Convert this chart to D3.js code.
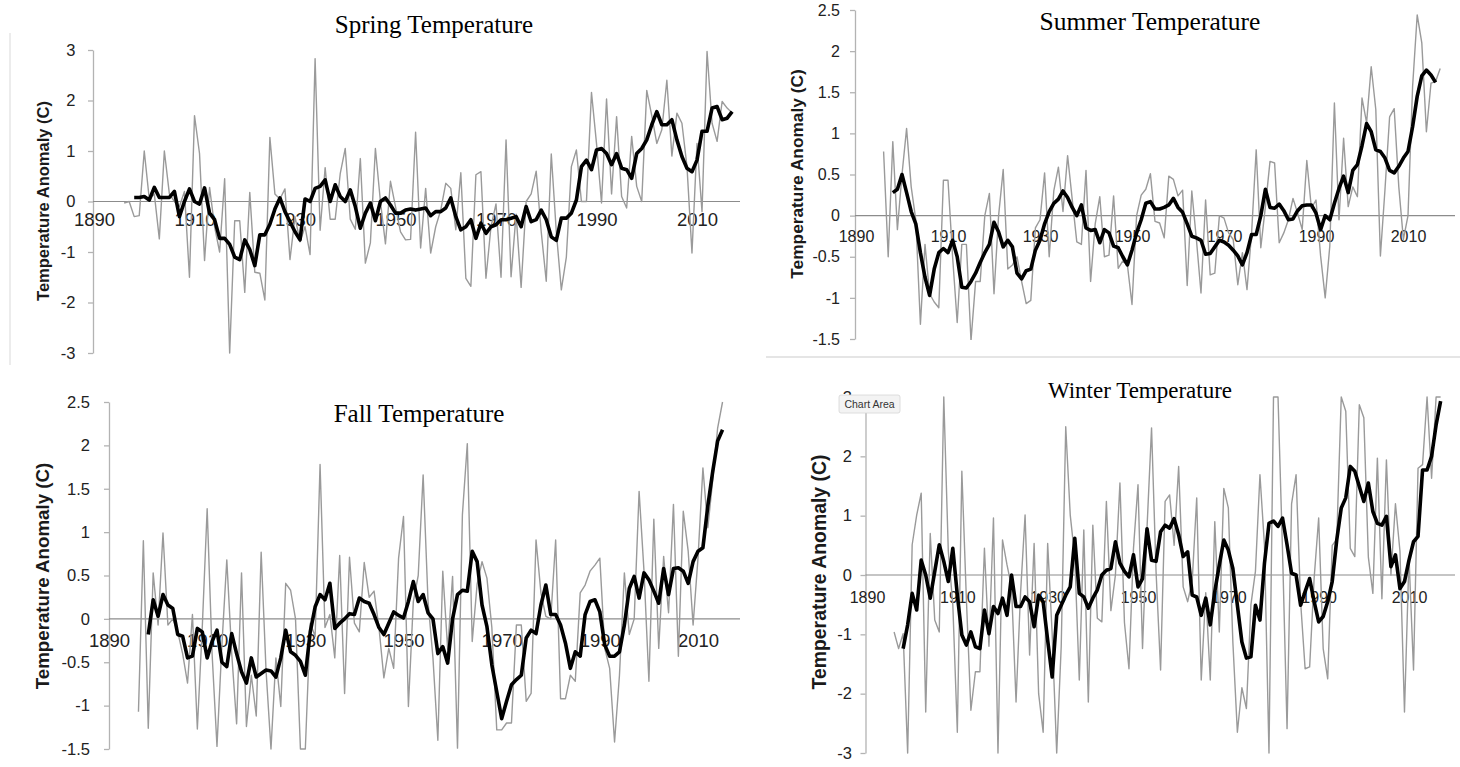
<!DOCTYPE html>
<html>
<head>
<meta charset="utf-8">
<script src="https://cdn.jsdelivr.net/npm/d3@7"></script>
<style>
  body { margin: 0; background: #ffffff; }
  svg { display: block; }
</style>
</head>
<body>
<svg id="chart" width="1460" height="767"></svg>
<script>
// ---- Seasonal temperature anomalies (°C): annual values and smoothed trend ----
const yearTicks = [1890, 1910, 1930, 1950, 1970, 1990, 2010];

const springTicks = [3, 2, 1, 0, -1, -2, -3];
const summerTicks = [2.5, 2, 1.5, 1, 0.5, 0, -0.5, -1, -1.5];
const fallTicks   = [2.5, 2, 1.5, 1, 0.5, 0, -0.5, -1, -1.5];
const winterTicks = [3, 2, 1, 0, -1, -2, -3];

const springAnnualStart = 1896;
const springAnnual = [
  -0.03, 0.0, -0.3, -0.28, 1.0, 0.05, 0.15, -0.74, 1.0, 0.15,
  0.0, -0.1, 0.2, -1.5, 1.7, 0.95, -1.17, 0.28, -0.5, -1.0,
  0.45, -3.0, -0.38, -0.38, -1.8, 0.18, -1.4, -1.42, -1.95, 1.27,
  0.15, 0.05, 0.25, -1.15, -0.3, -0.8, -0.5, -1.05, 2.83, -0.57,
  0.67, -0.35, -0.35, 0.55, 1.05, -0.35, -0.55, 0.85, -1.22, -0.82,
  1.05, 0.0, -0.84, 0.4, -0.1, -0.6, -0.76, -0.75, 1.37, -0.92,
  0.26, -1.02, -0.5, -0.17, 0.36, 0.26, -0.56, 0.57, -1.52, -1.68,
  0.53, 0.59, -1.52, -0.5, -0.05, -1.5, 1.22, -1.49, -0.25, -1.7,
  0.0, 0.15, 0.6, -0.6, -1.58, 0.94, -0.6, -1.75, -1.1, 0.69,
  1.02, 0.0, 0.0, 2.16, 1.15, -0.03, 2.03, 0.15, 1.68, 0.1,
  -0.13, 1.29, 0.3, 0.0, 2.2, 1.7, 1.15, 1.42, 2.4, 0.9,
  1.75, 1.55, 0.7, -1.02, 1.15, -0.2, 2.97, 1.55, 1.19, 1.98,
  1.85, 1.75
];
const springSmoothStart = 1898;
const springSmooth = [
  0.08, 0.08, 0.1, 0.03, 0.28, 0.08, 0.08, 0.08, 0.2, -0.3,
  0.0, 0.25, 0.0, -0.05, 0.27, -0.23, -0.36, -0.73, -0.73, -0.85,
  -1.1, -1.15, -0.76, -0.95, -1.27, -0.66, -0.66, -0.45, -0.15, 0.07,
  -0.2, -0.4, -0.6, -0.76, 0.05, 0.0, 0.26, 0.3, 0.43, 0.0,
  0.33, 0.1, 0.0, 0.23, -0.1, -0.53, -0.23, -0.03, -0.38, 0.0,
  0.07, -0.07, -0.23, -0.23, -0.17, -0.15, -0.17, -0.15, -0.13, -0.28,
  -0.2, -0.2, -0.13, 0.07, -0.3, -0.56, -0.5, -0.36, -0.73, -0.43,
  -0.63, -0.5, -0.46, -0.36, -0.36, -0.33, -0.3, -0.5, -0.1, -0.4,
  -0.36, -0.17, -0.36, -0.7, -0.77, -0.33, -0.33, -0.23, 0.03, 0.69,
  0.82, 0.63, 1.02, 1.05, 0.95, 0.73, 0.95, 0.66, 0.63, 0.46,
  0.95, 1.05, 1.22, 1.52, 1.78, 1.52, 1.52, 1.62, 1.22, 0.89,
  0.66, 0.59, 0.82, 1.39, 1.39, 1.85, 1.88, 1.62, 1.65, 1.78
];

const summerAnnualStart = 1896;
const summerAnnual = [
  0.78, -0.5, 0.9, -0.17, 0.5, 1.06, 0.35, -0.05, -1.32, -0.35,
  -0.95, -1.05, -1.12, 0.43, 0.43, -0.5, -1.3, -0.35, -0.35, -1.52,
  -0.8, -0.8, 0.0, 0.27, -0.95, 0.0, 0.56, -0.65, -0.6, -0.5,
  -0.8, -1.07, -1.03, -0.15, -0.05, 0.52, -0.5, 0.3, 0.59, 0.05,
  0.73, 0.2, -0.32, -0.35, 0.55, -0.8, -0.1, 0.23, -0.5, -0.48,
  0.24, -0.64, -0.55, -0.6, -1.08, 0.0, 0.25, 0.32, 0.51, -0.07,
  -0.09, -0.27, 0.48, 0.44, 0.24, 0.31, -0.85, 0.3, -0.29, -0.94,
  0.19, -0.72, -0.7, 0.0, -0.03, -0.21, -0.29, -0.84, -0.45, -0.9,
  -0.21, 0.8, -0.39, 0.11, 0.66, 0.64, -0.33, -0.21, -0.05, 0.21,
  0.03, -0.17, 0.67, 0.09, 0.19, -0.49, -1.0, -0.37, 1.37, -0.05,
  0.94, 0.11, 0.35, 0.23, 1.43, 1.13, 1.81, 1.29, -0.49, 0.32,
  1.2, 1.3, 0.35, -0.29, 0.0, 1.57, 2.44, 2.1, 1.02, 1.61,
  1.63, 1.79
];
const summerSmoothStart = 1898;
const summerSmooth = [
  0.28, 0.32, 0.5, 0.28, 0.05, -0.1, -0.45, -0.75, -0.97, -0.65,
  -0.45, -0.4, -0.45, -0.3, -0.5, -0.87, -0.88, -0.8, -0.7, -0.57,
  -0.45, -0.35, -0.08, -0.2, -0.38, -0.3, -0.38, -0.7, -0.77, -0.67,
  -0.65, -0.42, -0.3, -0.1, 0.05, 0.15, 0.2, 0.3, 0.22, 0.1,
  0.0, 0.13, -0.15, -0.18, -0.17, -0.33, -0.17, -0.21, -0.37, -0.39,
  -0.5, -0.6, -0.42, -0.21, -0.05, 0.15, 0.17, 0.08, 0.08, 0.1,
  0.13, 0.21, 0.1, 0.04, -0.1, -0.25, -0.27, -0.3, -0.47, -0.46,
  -0.38, -0.3, -0.32, -0.36, -0.42, -0.49, -0.6, -0.45, -0.23, -0.23,
  0.0, 0.32, 0.1, 0.09, 0.14, 0.06, -0.05, -0.04, 0.06, 0.12,
  0.13, 0.13, 0.03, -0.17, 0.0, -0.05, 0.15, 0.33, 0.48, 0.28,
  0.55, 0.62, 0.85, 1.12, 1.02, 0.8, 0.78, 0.7, 0.55, 0.52,
  0.6, 0.7, 0.78, 1.08, 1.45, 1.7, 1.77, 1.71, 1.62
];

const fallAnnualStart = 1896;
const fallAnnual = [
  -1.07, 0.9, -1.26, 0.53, -0.07, 0.99, -0.07, 0.0, -0.15, -0.4,
  -0.74, 0.05, -1.27, -0.1, 1.27, -0.4, -1.47, -0.3, 0.68, -0.4,
  -1.21, 0.53, -1.24, -0.65, -1.12, 0.77, -0.6, -1.5, -0.45, -1.01,
  0.41, 0.33, 0.0, -1.5, -1.5, -0.05, -0.2, 1.78, -0.1, 0.05,
  -0.45, 0.73, -0.86, 0.71, -0.05, -0.15, 0.65, 0.25, 0.32, -0.1,
  -0.68, -0.34, -0.57, 0.7, 1.18, -1.01, 0.2, 0.5, 1.66, 0.2,
  -0.45, -1.4, 0.55, -0.35, 0.49, -1.49, 1.2, 2.02, -0.26, 0.4,
  0.66, 0.47, -0.1, -1.28, -1.28, -1.2, -1.2, -0.07, -0.07, -0.95,
  -0.86, 0.91, 0.3, 0.03, 0.0, 0.91, -0.92, -0.92, -0.65, -0.72,
  0.3, 0.39, 0.55, 0.62, 0.7, -0.34, -0.57, -1.42, -0.65, 0.53,
  -0.18, 0.0, 1.47, 0.55, -0.72, 1.15, -0.34, 0.72, 0.07, 1.32,
  -0.43, 1.24, 0.78, -0.07, 0.7, 1.74, 1.05, 1.6, 2.2, 2.5
];
const fallSmoothStart = 1898;
const fallSmooth = [
  -0.18, 0.22, 0.03, 0.28, 0.16, 0.12, -0.18, -0.2, -0.45, -0.43,
  -0.11, -0.15, -0.45, -0.26, -0.13, -0.5, -0.55, -0.17, -0.4, -0.61,
  -0.74, -0.45, -0.67, -0.63, -0.59, -0.6, -0.67, -0.45, -0.13, -0.38,
  -0.42, -0.49, -0.65, -0.15, 0.14, 0.28, 0.22, 0.41, -0.11, -0.05,
  0.0, 0.06, 0.05, 0.24, 0.2, 0.18, 0.05, -0.1, -0.18, -0.05,
  0.08, 0.04, 0.01, 0.2, 0.43, 0.2, 0.28, 0.07, 0.0, -0.4,
  -0.32, -0.51, 0.0, 0.28, 0.33, 0.32, 0.78, 0.66, 0.16, -0.09,
  -0.53, -0.84, -1.15, -0.95, -0.76, -0.7, -0.65, -0.22, -0.13, -0.17,
  0.16, 0.39, 0.05, 0.05, -0.07, -0.28, -0.57, -0.38, -0.43, 0.05,
  0.2, 0.22, 0.08, -0.3, -0.43, -0.43, -0.38, -0.07, 0.35, 0.49,
  0.24, 0.53, 0.45, 0.32, 0.18, 0.58, 0.28, 0.58, 0.59, 0.55,
  0.41, 0.66, 0.78, 0.82, 1.3, 1.7, 2.05, 2.18
];

const winterAnnualStart = 1896;
const winterAnnual = [
  -0.96, -1.24, -0.99, -3.0, 0.51, 1.01, 1.38, -2.31, 0.7, -0.76,
  -0.96, 3.0, 0.4, -0.5, -2.65, 1.75, -0.4, -2.28, -1.63, -1.63,
  0.45, -1.2, 0.96, -3.0, 0.59, 0.17, -0.2, -2.14, -0.3, 1.01,
  -1.35, 0.53, -2.0, -2.65, 0.53, -1.0, -3.0, -1.2, 2.5, 1.01,
  0.3, -1.77, 0.76, -2.14, 0.84, -0.73, -0.79, 1.24, -0.6, 0.0,
  1.55, -0.8, -1.58, 0.45, 1.52, -1.24, 0.8, 2.48, 0.05, -1.6,
  1.24, 1.35, 0.5, 1.83, -0.2, -0.45, -0.1, 1.3, -1.77, -0.3,
  -1.77, 0.9, -0.96, 1.46, 1.13, -1.13, -2.65, -1.9, -2.25, -0.5,
  0.06, 1.69, 0.5, -3.0, 3.0, 3.0, 0.4, -2.59, 1.2, 1.69,
  -0.45, -1.58, -1.55, -0.05, 0.96, -1.24, -1.75, 0.5, 0.6, 3.0,
  2.76, 0.45, 0.31, 2.87, 2.65, 0.3, -0.31, 1.97, -0.4, 1.94,
  0.0, 1.2, 0.4, -2.31, 0.3, -1.6, 1.8, 1.86, 3.0, 1.63,
  3.0, 3.0
];
const winterSmoothStart = 1898;
const winterSmooth = [
  -1.24, -0.84, -0.31, -0.59, 0.25, 0.0, -0.39, 0.06, 0.51, 0.23,
  -0.11, 0.45, -0.34, -1.01, -1.18, -0.96, -1.21, -1.24, -0.59, -0.99,
  -0.53, -0.65, -0.39, -0.68, 0.0, -0.53, -0.53, -0.37, -0.45, -0.87,
  -0.34, -0.45, -1.1, -1.72, -0.68, -0.51, -0.34, -0.2, 0.62, -0.31,
  -0.37, -0.56, -0.39, -0.25, 0.0, 0.08, 0.11, 0.56, 0.2, 0.06,
  -0.03, 0.34, -0.2, -0.06, 0.78, 0.25, 0.23, 0.73, 0.84, 0.79,
  0.95, 0.68, 0.31, 0.39, -0.34, -0.37, -0.68, -0.39, -0.84, -0.28,
  0.17, 0.59, 0.42, 0.11, -0.51, -1.13, -1.4, -1.38, -0.51, -0.76,
  0.2, 0.87, 0.91, 0.82, 0.96, 0.51, 0.03, 0.0, -0.51, -0.28,
  -0.06, -0.45, -0.79, -0.7, -0.45, -0.11, 0.59, 1.13, 1.3, 1.83,
  1.75, 1.49, 1.24, 1.55, 1.07, 0.87, 0.84, 0.99, 0.14, 0.34,
  -0.23, -0.11, 0.25, 0.56, 0.65, 1.77, 1.77, 2.0, 2.53, 2.93
];

// ---- Panel layout (page pixels) ----
const panels = [
  { title: "Spring Temperature", annual: springAnnual, annualStart: springAnnualStart,
    smooth: springSmooth, smoothStart: springSmoothStart, yTicks: springTicks,
    x1890: 94, x2010: 697, axisX: 93, lineEnd: 740,
    yMax: 3, yMin: -3, yTopPx: 50, yBotPx: 353,
    tickFont: 16.5, tickGap: 17.5, yearFont: 18.5, yearOffset: 25,
    titleX: 434, titleY: 33, titleFont: 25,
    axisTitleX: 43, axisTitleY: 201, axisTitleFont: 16.5 },
  { title: "Summer Temperature", annual: summerAnnual, annualStart: summerAnnualStart,
    smooth: summerSmooth, smoothStart: summerSmoothStart, yTicks: summerTicks,
    x1890: 856, x2010: 1408, axisX: 855, lineEnd: 1455,
    yMax: 2.5, yMin: -1.5, yTopPx: 10, yBotPx: 339,
    tickFont: 16, tickGap: 15, yearFont: 16, yearOffset: 27,
    titleX: 1150, titleY: 30, titleFont: 25.5,
    axisTitleX: 797, axisTitleY: 174, axisTitleFont: 17.3 },
  { title: "Fall Temperature", annual: fallAnnual, annualStart: fallAnnualStart,
    smooth: fallSmooth, smoothStart: fallSmoothStart, yTicks: fallTicks,
    x1890: 109, x2010: 698, axisX: 109, lineEnd: 740,
    yMax: 2.5, yMin: -1.5, yTopPx: 402, yBotPx: 749,
    tickFont: 16.5, tickGap: 19, yearFont: 18.5, yearOffset: 28,
    titleX: 419, titleY: 422, titleFont: 25,
    axisTitleX: 42, axisTitleY: 576, axisTitleFont: 18.7 },
  { title: "Winter Temperature", annual: winterAnnual, annualStart: winterAnnualStart,
    smooth: winterSmooth, smoothStart: winterSmoothStart, yTicks: winterTicks,
    x1890: 867, x2010: 1409, axisX: 865.5, lineEnd: 1455,
    yMax: 3, yMin: -3, yTopPx: 397, yBotPx: 753,
    tickFont: 16.5, tickGap: 13.5, yearFont: 16, yearOffset: 28,
    titleX: 1140, titleY: 398, titleFont: 23,
    axisTitleX: 819, axisTitleY: 572, axisTitleFont: 19.4 }
];

const svg = d3.select("#chart");
const SANS = "'Liberation Sans', Arial, Helvetica, sans-serif";
const SERIF = "'Liberation Serif', 'Times New Roman', serif";

const toSeries = (values, start) => values.map((v, i) => ({ year: start + i, value: v }));

// faint frame remnants around the upper panels
svg.append("line").attr("x1", 10).attr("x2", 10).attr("y1", 33).attr("y2", 365)
  .attr("stroke", "#d9d9d9").attr("stroke-width", 1);
svg.append("line").attr("x1", 766).attr("x2", 1460).attr("y1", 357).attr("y2", 357)
  .attr("stroke", "#dcdcdc").attr("stroke-width", 1.5);

panels.forEach((p, idx) => {
  const g = svg.append("g").attr("class", "panel");

  const x = d3.scaleLinear().domain([1890, 2010]).range([p.x1890, p.x2010]);
  const y = d3.scaleLinear().domain([p.yMin, p.yMax]).range([p.yBotPx, p.yTopPx]);

  // clip to plotting area
  const clipId = "clip" + idx;
  g.append("clipPath").attr("id", clipId).append("rect")
    .attr("x", p.axisX).attr("y", y(p.yMax) - 1)
    .attr("width", p.lineEnd - p.axisX).attr("height", y(p.yMin) - y(p.yMax) + 2);

  // vertical value axis (plain hyphen for negatives)
  const yAxis = d3.axisLeft(y).tickValues(p.yTicks).tickSize(5).tickSizeOuter(0)
    .tickPadding(p.tickGap - 5).tickFormat(d => String(d));
  const ya = g.append("g").attr("transform", `translate(${p.axisX},0)`).call(yAxis);
  ya.select(".domain").attr("stroke", "#b3b3b3").attr("stroke-width", 1.3);
  ya.selectAll(".tick line").attr("stroke", "#b3b3b3").attr("stroke-width", 1.3);
  ya.selectAll(".tick text").attr("fill", "#222")
    .style("font-family", SANS).style("font-size", p.tickFont + "px");

  // zero line
  g.append("line")
    .attr("x1", p.axisX).attr("x2", p.lineEnd)
    .attr("y1", y(0)).attr("y2", y(0))
    .attr("stroke", "#8c8c8c").attr("stroke-width", 1.2);

  // year labels under the zero line
  const xAxis = d3.axisBottom(x).tickValues(yearTicks).tickSize(0)
    .tickPadding(p.yearOffset - p.yearFont * 0.72).tickFormat(d3.format("d"));
  const xa = g.append("g").attr("transform", `translate(0,${y(0)})`).call(xAxis);
  xa.select(".domain").remove();
  xa.selectAll(".tick text").attr("fill", "#222").attr("dy", "0.71em")
    .style("font-family", SANS).style("font-size", p.yearFont + "px");

  const plot = g.append("g").attr("clip-path", `url(#${clipId})`);
  const line = d3.line().x(d => x(d.year)).y(d => y(d.value));

  plot.append("path")
    .datum(toSeries(p.annual, p.annualStart))
    .attr("fill", "none").attr("stroke", "#9a9a9a").attr("stroke-width", 1.4)
    .attr("stroke-linejoin", "round")
    .attr("d", line);

  plot.append("path")
    .datum(toSeries(p.smooth, p.smoothStart))
    .attr("fill", "none").attr("stroke", "#000000").attr("stroke-width", 3.6)
    .attr("stroke-linejoin", "round")
    .attr("d", line);

  // axis title
  g.append("text")
    .attr("transform", `translate(${p.axisTitleX},${p.axisTitleY}) rotate(-90)`)
    .attr("text-anchor", "middle").attr("dominant-baseline", "central")
    .style("font-family", SANS).style("font-weight", "bold")
    .style("font-size", p.axisTitleFont + "px").attr("fill", "#1a1a1a")
    .text("Temperature Anomaly (C)");

  // panel title
  g.append("text")
    .attr("x", p.titleX).attr("y", p.titleY)
    .attr("text-anchor", "middle")
    .style("font-family", SERIF).style("font-size", p.titleFont + "px")
    .attr("fill", "#000")
    .text(p.title);
});

// hover label left over on the winter chart
const tip = svg.append("g").attr("transform", "translate(839,395)");
tip.append("rect").attr("width", 61).attr("height", 18).attr("rx", 2)
  .attr("fill", "#f3f3f3").attr("stroke", "#d6d6d6").attr("stroke-width", 0.8);
tip.append("text").attr("x", 30.5).attr("y", 13).attr("text-anchor", "middle")
  .style("font-family", SANS).style("font-size", "10.5px").attr("fill", "#333")
  .text("Chart Area");
</script>
</body>
</html>
